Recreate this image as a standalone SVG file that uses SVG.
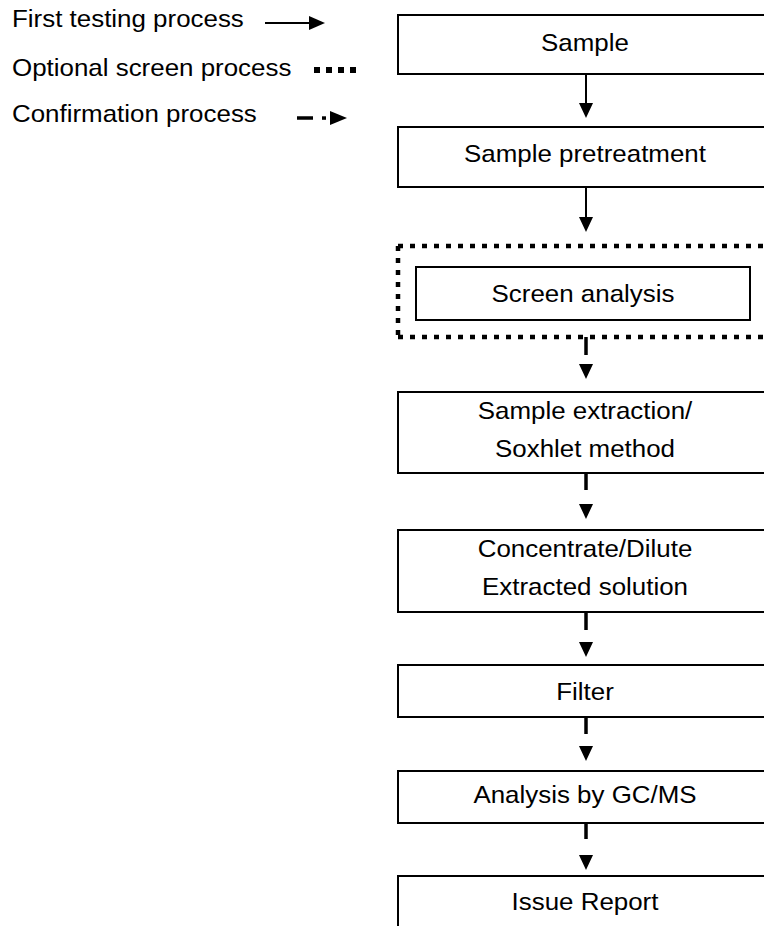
<svg xmlns="http://www.w3.org/2000/svg" width="764" height="926" viewBox="0 0 764 926">
<style>
text{font-family:"Liberation Sans",Arial,sans-serif;font-size:24px;fill:#000}
.c{text-anchor:middle}
.box{fill:#fff;stroke:#000;stroke-width:2}
.solid{stroke:#000;stroke-width:2;fill:none}
.dash{stroke:#000;stroke-width:3.5;fill:none}
.dot{stroke:#000;stroke-width:4.5;fill:none;stroke-dasharray:5 7}
.head{fill:#000}
</style>
<rect width="764" height="926" fill="#fff"/>
<g id="legend">
<text transform="translate(12,27) scale(1.08,1)">First testing process</text>
<text transform="translate(12,76) scale(1.08,1)">Optional screen process</text>
<text transform="translate(12,122) scale(1.08,1)">Confirmation process</text>
<line class="solid" x1="265" y1="23" x2="311" y2="23"/>
<polygon class="head" points="309,16 325,23 309,30"/>
<line x1="314" y1="70" x2="358" y2="70" stroke="#000" stroke-width="6" stroke-dasharray="6 6"/>
<line class="dash" x1="297" y1="118" x2="313" y2="118"/>
<rect x="322" y="116.3" width="4" height="3.5" fill="#000"/>
<polygon class="head" points="330,111 347,118 330,125"/>
</g>
<g id="screen-group">
<line class="dot" x1="398" y1="246" x2="780" y2="246"/>
<line class="dot" x1="398" y1="246" x2="398" y2="337"/>
<line class="dot" x1="398" y1="337" x2="780" y2="337"/>
</g>
<g id="node-sample"><rect class="box" x="398" y="15" width="380" height="59"/><text class="c" transform="translate(585,51) scale(1.08,1)">Sample</text></g>
<g id="node-pretreatment"><rect class="box" x="398" y="127" width="380" height="60"/><text class="c" transform="translate(585,162) scale(1.08,1)">Sample pretreatment</text></g>
<g id="node-screen"><rect class="box" x="416" y="267" width="334" height="53"/><text class="c" transform="translate(583,302) scale(1.08,1)">Screen analysis</text></g>
<g id="node-extraction"><rect class="box" x="398" y="392" width="380" height="81"/><text class="c" transform="translate(585,419) scale(1.08,1)">Sample extraction/</text><text class="c" transform="translate(585,457) scale(1.08,1)">Soxhlet method</text></g>
<g id="node-concentrate"><rect class="box" x="398" y="530" width="380" height="82"/><text class="c" transform="translate(585,557) scale(1.08,1)">Concentrate/Dilute</text><text class="c" transform="translate(585,595) scale(1.08,1)">Extracted solution</text></g>
<g id="node-filter"><rect class="box" x="398" y="665" width="380" height="52"/><text class="c" transform="translate(585,700) scale(1.08,1)">Filter</text></g>
<g id="node-gcms"><rect class="box" x="398" y="771" width="380" height="52"/><text class="c" transform="translate(585,803) scale(1.08,1)">Analysis by GC/MS</text></g>
<g id="node-report"><rect class="box" x="398" y="876" width="380" height="70"/><text class="c" transform="translate(585,910) scale(1.08,1)">Issue Report</text></g>
<g id="connectors">
<line class="solid" x1="586" y1="74" x2="586" y2="105"/>
<polygon class="head" points="579,103 593,103 586,118"/>
<line class="solid" x1="586" y1="187" x2="586" y2="219"/>
<polygon class="head" points="579,217 593,217 586,232"/>
<line class="dash" x1="586" y1="337" x2="586" y2="355"/>
<polygon class="head" points="579,364 593,364 586,379"/>
<line class="dash" x1="586" y1="473" x2="586" y2="490"/>
<polygon class="head" points="579,504 593,504 586,519"/>
<line class="dash" x1="586" y1="612" x2="586" y2="630"/>
<polygon class="head" points="579,642 593,642 586,657"/>
<line class="dash" x1="586" y1="717" x2="586" y2="734"/>
<polygon class="head" points="579,746 593,746 586,761"/>
<line class="dash" x1="586" y1="823" x2="586" y2="839"/>
<polygon class="head" points="579,855 593,855 586,870"/>
</g>
</svg>
